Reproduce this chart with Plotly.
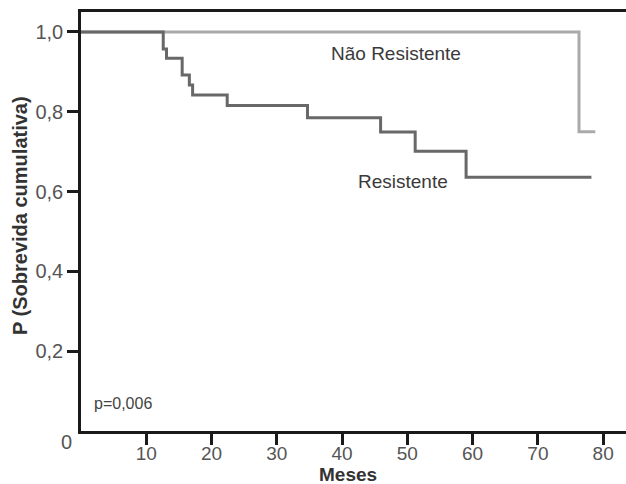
import plotly.graph_objects as go

# Data (Kaplan-Meier step curves)
resist_t = [0, 12.6, 13.1, 15.5, 16.6, 17.1, 22.4, 34.7, 45.9, 51.2, 59.0, 78.2]
resist_s = [1.0, 0.957, 0.934, 0.892, 0.867, 0.842, 0.816, 0.785, 0.749, 0.701, 0.636, 0.636]
naores_t = [0, 76.3, 78.8]
naores_s = [1.0, 0.75, 0.75]

x_ticks = [10, 20, 30, 40, 50, 60, 70, 80]
y_ticks = [0.2, 0.4, 0.6, 0.8, 1.0]
y_ticklabels = ["0,2", "0,4", "0,6", "0,8", "1,0"]

FONT = "Liberation Sans, Arial, sans-serif"

fig = go.Figure()
fig.add_trace(go.Scatter(x=naores_t, y=naores_s, mode="lines", line_shape="hv",
                         line=dict(color="#aaaaaa", width=3), showlegend=False))
fig.add_trace(go.Scatter(x=resist_t, y=resist_s, mode="lines", line_shape="hv",
                         line=dict(color="#686868", width=3), showlegend=False))

fig.add_annotation(x=48.3, y=0.945, text="Não Resistente", showarrow=False,
                   font=dict(family=FONT, size=19, color="#3a3a3a"))
fig.add_annotation(x=49.3, y=0.625, text="Resistente", showarrow=False,
                   font=dict(family=FONT, size=19, color="#3a3a3a"))
fig.add_annotation(x=6.4, y=0.068, text="p=0,006", showarrow=False,
                   font=dict(family=FONT, size=16, color="#444444"))
fig.add_annotation(x=0, y=0, xref="x", yref="y", text="0", showarrow=False,
                   xshift=-15, yshift=-11,
                   font=dict(family=FONT, size=20, color="#555555"))
# axis titles
fig.add_annotation(x=-0.112, y=0.5155, xref="paper", yref="paper",
                   text="<b>P (Sobrevida cumulativa)</b>", textangle=-90, showarrow=False,
                   xanchor="center", yanchor="middle",
                   font=dict(family=FONT, size=20, color="#333333"))
fig.add_annotation(x=0.49, y=-0.103, xref="paper", yref="paper",
                   text="<b>Meses</b>", showarrow=False, xanchor="center", yanchor="middle",
                   font=dict(family=FONT, size=19, color="#333333"))

fig.update_layout(
    width=626, height=484,
    margin=dict(l=81, r=0, t=12, b=53),
    paper_bgcolor="white", plot_bgcolor="white",
    font=dict(family=FONT),
    xaxis=dict(range=[0, 83.5], tickvals=x_ticks, ticktext=[str(v) for v in x_ticks],
               showgrid=False, zeroline=False, showline=True, linecolor="#1a1a1a",
               linewidth=2.5, mirror=True, ticks="outside", ticklen=11, tickwidth=2.5,
               tickcolor="#1a1a1a", automargin=False, ticklabelstandoff=-8,
               tickfont=dict(family=FONT, size=19, color="#555555")),
    yaxis=dict(range=[0, 1.05], tickvals=y_ticks, ticktext=y_ticklabels,
               showgrid=False, zeroline=False, showline=True, linecolor="#1a1a1a",
               linewidth=2.5, ticks="outside", ticklen=11, tickwidth=2.5,
               tickcolor="#1a1a1a", automargin=False,
               tickfont=dict(family=FONT, size=20, color="#555555")),
)

fig.write_html("out.html", config={"displayModeBar": False},
               post_script="document.body.style.margin='0px';")
